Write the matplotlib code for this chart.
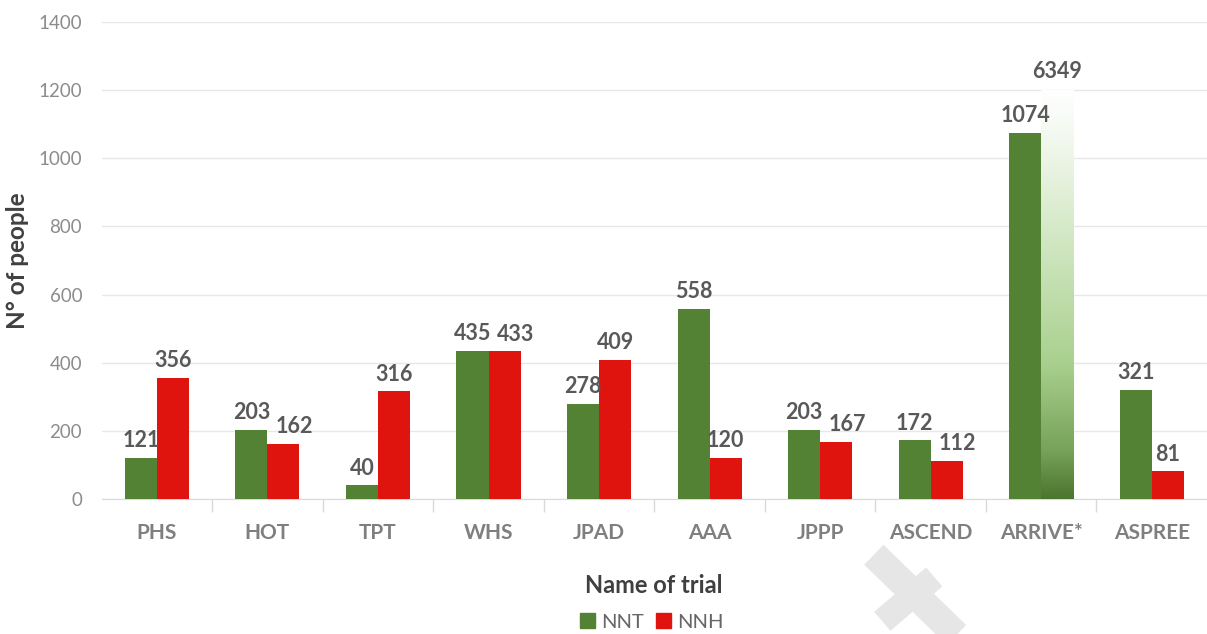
import numpy as np
import matplotlib
matplotlib.use("Agg")
import matplotlib.pyplot as plt
from matplotlib.colors import LinearSegmentedColormap
from matplotlib.patches import Patch
from matplotlib.lines import Line2D

plt.rcParams['font.family'] = ['Lato', 'DejaVu Sans']

trials = ['PHS', 'HOT', 'TPT', 'WHS', 'JPAD', 'AAA', 'JPPP', 'ASCEND', 'ARRIVE*', 'ASPREE']
nnt = [121, 203, 40, 435, 278, 558, 203, 172, 1074, 321]
nnh = [356, 162, 316, 433, 409, 120, 167, 112, 6349, 81]
nnh_cap = 1200   # bars above this are cut off and faded

green = '#548235'
red = '#e0140f'
label_col = '#595959'
val_fs = 15.5

fig = plt.figure(figsize=(12.07, 6.34), dpi=100)
ax = fig.add_axes([0.0842, 0.2129, 0.9158, 0.7524])

x = np.arange(len(trials))
w = 0.29

ax.bar(x - w/2, nnt, w, color=green, zorder=3)
cmap = LinearSegmentedColormap.from_list('fade', [(0, '#4c752f'), (0.12, '#78a35a'), (0.33, '#a9d08e'),
                                                   (0.6, '#cde5bd'), (0.85, '#eef6e9'), (1, '#ffffff')])
for xi, v, g in zip(x, nnh, nnt):
    if v > nnh_cap:
        grad = np.linspace(0, 1, 256).reshape(-1, 1)
        ax.imshow(grad, cmap=cmap, origin='lower', aspect='auto',
                  extent=(xi, xi + w, 0, nnh_cap), zorder=3)
        ax.text(xi + w/2, nnh_cap + 25, str(v), ha='center', va='bottom',
                fontsize=val_fs, fontweight='bold', color=label_col)
    else:
        ax.bar(xi + w/2, v, w, color=red, zorder=3)
        # nudge the label right when it sits level with the green one
        dx = 0.1 if abs(v - g) < 80 else 0.0
        ax.text(xi + w/2 + dx, v + 20, str(v), ha='center', va='bottom',
                fontsize=val_fs, fontweight='bold', color=label_col)

for xi, v in zip(x, nnt):
    ax.text(xi - w/2, v + 20, str(v), ha='center', va='bottom',
            fontsize=val_fs, fontweight='bold', color=label_col)

ax.set_xlim(-0.5, len(trials) - 0.5)
ax.set_ylim(0, 1400)
ax.set_yticks(range(0, 1401, 200))
ax.set_xticks(x)
ax.set_xticklabels(trials, fontsize=15, fontweight='bold', color='#7f7f7f')
ax.set_xticks(np.arange(0.5, len(trials) - 0.5, 1), minor=True)
ax.tick_params(axis='x', which='major', length=0, pad=17)
ax.tick_params(axis='x', which='minor', length=9, color='#d9d9d9', width=1)
ax.tick_params(axis='y', length=0, pad=14, labelsize=13.5, labelcolor='#8c8c8c')
ax.grid(axis='y', color='#e8e8e8', linewidth=1, zorder=0)
for s in ['top', 'right', 'left']:
    ax.spines[s].set_visible(False)
ax.spines['bottom'].set_color('#d9d9d9')

ax.set_ylabel('N° of people', fontsize=17.5, fontweight='bold', color='#404040')
ax.yaxis.set_label_coords(-0.066, 0.5)
fig.text(0.542, 0.077, 'Name of trial', ha='center', va='center',
         fontsize=17, fontweight='bold', color='#404040')

handles = [Patch(color=green, label='NNT'), Patch(color=red, label='NNH')]
fig.legend(handles=handles, loc='center', bbox_to_anchor=(0.54, 0.019), ncol=2, frameon=False,
           fontsize=14.5, handlelength=0.75, handleheight=0.75, handletextpad=0.3, columnspacing=0.6,
           labelcolor='#666666')

# faint watermark cross in the lower right corner
fig.add_artist(Line2D([0.724, 0.797], [0.125, -0.01], transform=fig.transFigure,
                      color='#e6e6e6', linewidth=20, solid_capstyle='butt'))
fig.add_artist(Line2D([0.774, 0.731], [0.09, 0.02], transform=fig.transFigure,
                      color='#e6e6e6', linewidth=18, solid_capstyle='butt'))

fig.savefig('out.png', dpi=100)
